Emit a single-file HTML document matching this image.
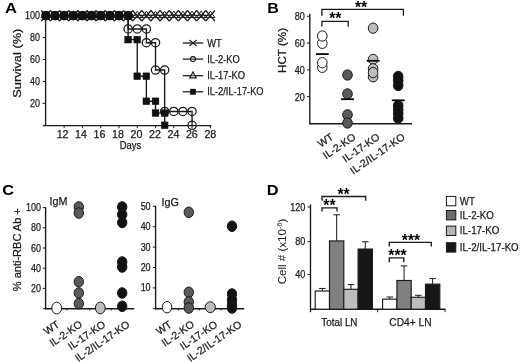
<!DOCTYPE html>
<html><head><meta charset="utf-8"><title>Figure</title>
<style>
html,body{margin:0;padding:0;background:#fff;}
body{width:520px;height:362px;overflow:hidden;}
svg{display:block;font-family:"Liberation Sans",sans-serif;}
</style></head><body>
<svg width="520" height="362" viewBox="0 0 520 362">
<rect x="0" y="0" width="520" height="362" fill="#ffffff"/>
<text transform="translate(5.00,12.80)" x="0.00" y="0" font-size="14" font-weight="bold" fill="#000" textLength="12.00" lengthAdjust="spacingAndGlyphs">A</text>
<line x1="45.60" y1="13.50" x2="45.60" y2="126.10" stroke="#1a1a1a" stroke-width="1.35" stroke-linecap="butt"/>
<line x1="42.80" y1="125.60" x2="211.33" y2="125.60" stroke="#1a1a1a" stroke-width="1.35" stroke-linecap="butt"/>
<line x1="42.60" y1="103.36" x2="45.60" y2="103.36" stroke="#1a1a1a" stroke-width="1.0" stroke-linecap="butt"/>
<text transform="translate(40.00,106.96)" x="-9.97" y="0" font-size="10.8" stroke="#1a1a1a" stroke-width="0.25" fill="#1a1a1a" textLength="9.97" lengthAdjust="spacingAndGlyphs">20</text>
<line x1="42.60" y1="81.42" x2="45.60" y2="81.42" stroke="#1a1a1a" stroke-width="1.0" stroke-linecap="butt"/>
<text transform="translate(40.00,85.02)" x="-9.97" y="0" font-size="10.8" stroke="#1a1a1a" stroke-width="0.25" fill="#1a1a1a" textLength="9.97" lengthAdjust="spacingAndGlyphs">40</text>
<line x1="42.60" y1="59.48" x2="45.60" y2="59.48" stroke="#1a1a1a" stroke-width="1.0" stroke-linecap="butt"/>
<text transform="translate(40.00,63.08)" x="-9.97" y="0" font-size="10.8" stroke="#1a1a1a" stroke-width="0.25" fill="#1a1a1a" textLength="9.97" lengthAdjust="spacingAndGlyphs">60</text>
<line x1="42.60" y1="37.54" x2="45.60" y2="37.54" stroke="#1a1a1a" stroke-width="1.0" stroke-linecap="butt"/>
<text transform="translate(40.00,41.14)" x="-9.97" y="0" font-size="10.8" stroke="#1a1a1a" stroke-width="0.25" fill="#1a1a1a" textLength="9.97" lengthAdjust="spacingAndGlyphs">80</text>
<line x1="42.60" y1="15.60" x2="45.60" y2="15.60" stroke="#1a1a1a" stroke-width="1.0" stroke-linecap="butt"/>
<text transform="translate(40.00,19.20)" x="-14.95" y="0" font-size="10.8" stroke="#1a1a1a" stroke-width="0.25" fill="#1a1a1a" textLength="14.95" lengthAdjust="spacingAndGlyphs">100</text>
<line x1="64.17" y1="125.60" x2="64.17" y2="128.20" stroke="#1a1a1a" stroke-width="1.0" stroke-linecap="butt"/>
<text transform="translate(62.57,138.40)" x="-5.95" y="0" font-size="10.5" stroke="#1a1a1a" stroke-width="0.25" fill="#1a1a1a" textLength="11.90" lengthAdjust="spacingAndGlyphs">12</text>
<line x1="82.44" y1="125.60" x2="82.44" y2="128.20" stroke="#1a1a1a" stroke-width="1.0" stroke-linecap="butt"/>
<text transform="translate(81.04,138.40)" x="-5.95" y="0" font-size="10.5" stroke="#1a1a1a" stroke-width="0.25" fill="#1a1a1a" textLength="11.90" lengthAdjust="spacingAndGlyphs">14</text>
<line x1="100.71" y1="125.60" x2="100.71" y2="128.20" stroke="#1a1a1a" stroke-width="1.0" stroke-linecap="butt"/>
<text transform="translate(99.51,138.40)" x="-5.95" y="0" font-size="10.5" stroke="#1a1a1a" stroke-width="0.25" fill="#1a1a1a" textLength="11.90" lengthAdjust="spacingAndGlyphs">16</text>
<line x1="118.98" y1="125.60" x2="118.98" y2="128.20" stroke="#1a1a1a" stroke-width="1.0" stroke-linecap="butt"/>
<text transform="translate(117.98,138.40)" x="-5.95" y="0" font-size="10.5" stroke="#1a1a1a" stroke-width="0.25" fill="#1a1a1a" textLength="11.90" lengthAdjust="spacingAndGlyphs">18</text>
<line x1="137.25" y1="125.60" x2="137.25" y2="128.20" stroke="#1a1a1a" stroke-width="1.0" stroke-linecap="butt"/>
<text transform="translate(136.45,138.40)" x="-5.95" y="0" font-size="10.5" stroke="#1a1a1a" stroke-width="0.25" fill="#1a1a1a" textLength="11.90" lengthAdjust="spacingAndGlyphs">20</text>
<line x1="155.52" y1="125.60" x2="155.52" y2="128.20" stroke="#1a1a1a" stroke-width="1.0" stroke-linecap="butt"/>
<text transform="translate(154.92,138.40)" x="-5.95" y="0" font-size="10.5" stroke="#1a1a1a" stroke-width="0.25" fill="#1a1a1a" textLength="11.90" lengthAdjust="spacingAndGlyphs">22</text>
<line x1="173.79" y1="125.60" x2="173.79" y2="128.20" stroke="#1a1a1a" stroke-width="1.0" stroke-linecap="butt"/>
<text transform="translate(173.39,138.40)" x="-5.95" y="0" font-size="10.5" stroke="#1a1a1a" stroke-width="0.25" fill="#1a1a1a" textLength="11.90" lengthAdjust="spacingAndGlyphs">24</text>
<line x1="192.06" y1="125.60" x2="192.06" y2="128.20" stroke="#1a1a1a" stroke-width="1.0" stroke-linecap="butt"/>
<text transform="translate(191.86,138.40)" x="-5.95" y="0" font-size="10.5" stroke="#1a1a1a" stroke-width="0.25" fill="#1a1a1a" textLength="11.90" lengthAdjust="spacingAndGlyphs">26</text>
<line x1="210.33" y1="125.60" x2="210.33" y2="128.20" stroke="#1a1a1a" stroke-width="1.0" stroke-linecap="butt"/>
<text transform="translate(210.33,138.40)" x="-5.95" y="0" font-size="10.5" stroke="#1a1a1a" stroke-width="0.25" fill="#1a1a1a" textLength="11.90" lengthAdjust="spacingAndGlyphs">28</text>
<text transform="translate(130.40,149.20)" x="-10.76" y="0" font-size="10.5" stroke="#1a1a1a" stroke-width="0.25" fill="#1a1a1a" textLength="21.53" lengthAdjust="spacingAndGlyphs">Days</text>
<text transform="translate(21.20,63.20) rotate(-90)" x="-34.50" y="0" font-size="11.2" stroke="#1a1a1a" stroke-width="0.25" fill="#1a1a1a" textLength="69.00" lengthAdjust="spacingAndGlyphs">Survival (%)</text>
<line x1="45.90" y1="15.60" x2="210.33" y2="15.60" stroke="#1a1a1a" stroke-width="1.1" stroke-linecap="butt"/>
<path d="M41.30,17.60 L50.50,17.60 L45.90,11.20 Z" stroke="#1a1a1a" stroke-width="1.0" fill="#fff" stroke-linejoin="miter"/>
<path d="M50.43,17.60 L59.63,17.60 L55.03,11.20 Z" stroke="#1a1a1a" stroke-width="1.0" fill="#fff" stroke-linejoin="miter"/>
<path d="M59.57,17.60 L68.77,17.60 L64.17,11.20 Z" stroke="#1a1a1a" stroke-width="1.0" fill="#fff" stroke-linejoin="miter"/>
<path d="M68.71,17.60 L77.91,17.60 L73.31,11.20 Z" stroke="#1a1a1a" stroke-width="1.0" fill="#fff" stroke-linejoin="miter"/>
<path d="M77.84,17.60 L87.04,17.60 L82.44,11.20 Z" stroke="#1a1a1a" stroke-width="1.0" fill="#fff" stroke-linejoin="miter"/>
<path d="M86.97,17.60 L96.17,17.60 L91.57,11.20 Z" stroke="#1a1a1a" stroke-width="1.0" fill="#fff" stroke-linejoin="miter"/>
<path d="M96.11,17.60 L105.31,17.60 L100.71,11.20 Z" stroke="#1a1a1a" stroke-width="1.0" fill="#fff" stroke-linejoin="miter"/>
<path d="M105.25,17.60 L114.44,17.60 L109.84,11.20 Z" stroke="#1a1a1a" stroke-width="1.0" fill="#fff" stroke-linejoin="miter"/>
<path d="M114.38,17.60 L123.58,17.60 L118.98,11.20 Z" stroke="#1a1a1a" stroke-width="1.0" fill="#fff" stroke-linejoin="miter"/>
<path d="M123.52,17.60 L132.72,17.60 L128.12,11.20 Z" stroke="#1a1a1a" stroke-width="1.0" fill="#fff" stroke-linejoin="miter"/>
<path d="M132.65,17.60 L141.85,17.60 L137.25,11.20 Z" stroke="#1a1a1a" stroke-width="1.0" fill="#fff" stroke-linejoin="miter"/>
<path d="M141.78,17.60 L150.98,17.60 L146.38,11.20 Z" stroke="#1a1a1a" stroke-width="1.0" fill="#fff" stroke-linejoin="miter"/>
<path d="M150.92,17.60 L160.12,17.60 L155.52,11.20 Z" stroke="#1a1a1a" stroke-width="1.0" fill="#fff" stroke-linejoin="miter"/>
<path d="M160.06,17.60 L169.25,17.60 L164.66,11.20 Z" stroke="#1a1a1a" stroke-width="1.0" fill="#fff" stroke-linejoin="miter"/>
<path d="M169.19,17.60 L178.39,17.60 L173.79,11.20 Z" stroke="#1a1a1a" stroke-width="1.0" fill="#fff" stroke-linejoin="miter"/>
<path d="M178.33,17.60 L187.53,17.60 L182.93,11.20 Z" stroke="#1a1a1a" stroke-width="1.0" fill="#fff" stroke-linejoin="miter"/>
<path d="M187.46,17.60 L196.66,17.60 L192.06,11.20 Z" stroke="#1a1a1a" stroke-width="1.0" fill="#fff" stroke-linejoin="miter"/>
<path d="M196.59,17.60 L205.79,17.60 L201.19,11.20 Z" stroke="#1a1a1a" stroke-width="1.0" fill="#fff" stroke-linejoin="miter"/>
<path d="M205.73,17.60 L214.93,17.60 L210.33,11.20 Z" stroke="#1a1a1a" stroke-width="1.0" fill="#fff" stroke-linejoin="miter"/>
<path d="M41.30,10.50 L50.50,21.00 M41.30,21.00 L50.50,10.50" stroke="#1a1a1a" stroke-width="1.15" fill="none" stroke-linejoin="miter"/>
<path d="M50.43,10.50 L59.63,21.00 M50.43,21.00 L59.63,10.50" stroke="#1a1a1a" stroke-width="1.15" fill="none" stroke-linejoin="miter"/>
<path d="M59.57,10.50 L68.77,21.00 M59.57,21.00 L68.77,10.50" stroke="#1a1a1a" stroke-width="1.15" fill="none" stroke-linejoin="miter"/>
<path d="M68.71,10.50 L77.91,21.00 M68.71,21.00 L77.91,10.50" stroke="#1a1a1a" stroke-width="1.15" fill="none" stroke-linejoin="miter"/>
<path d="M77.84,10.50 L87.04,21.00 M77.84,21.00 L87.04,10.50" stroke="#1a1a1a" stroke-width="1.15" fill="none" stroke-linejoin="miter"/>
<path d="M86.97,10.50 L96.17,21.00 M86.97,21.00 L96.17,10.50" stroke="#1a1a1a" stroke-width="1.15" fill="none" stroke-linejoin="miter"/>
<path d="M96.11,10.50 L105.31,21.00 M96.11,21.00 L105.31,10.50" stroke="#1a1a1a" stroke-width="1.15" fill="none" stroke-linejoin="miter"/>
<path d="M105.25,10.50 L114.44,21.00 M105.25,21.00 L114.44,10.50" stroke="#1a1a1a" stroke-width="1.15" fill="none" stroke-linejoin="miter"/>
<path d="M114.38,10.50 L123.58,21.00 M114.38,21.00 L123.58,10.50" stroke="#1a1a1a" stroke-width="1.15" fill="none" stroke-linejoin="miter"/>
<path d="M123.52,10.50 L132.72,21.00 M123.52,21.00 L132.72,10.50" stroke="#1a1a1a" stroke-width="1.15" fill="none" stroke-linejoin="miter"/>
<path d="M132.65,10.50 L141.85,21.00 M132.65,21.00 L141.85,10.50" stroke="#1a1a1a" stroke-width="1.15" fill="none" stroke-linejoin="miter"/>
<path d="M141.78,10.50 L150.98,21.00 M141.78,21.00 L150.98,10.50" stroke="#1a1a1a" stroke-width="1.15" fill="none" stroke-linejoin="miter"/>
<path d="M150.92,10.50 L160.12,21.00 M150.92,21.00 L160.12,10.50" stroke="#1a1a1a" stroke-width="1.15" fill="none" stroke-linejoin="miter"/>
<path d="M160.06,10.50 L169.25,21.00 M160.06,21.00 L169.25,10.50" stroke="#1a1a1a" stroke-width="1.15" fill="none" stroke-linejoin="miter"/>
<path d="M169.19,10.50 L178.39,21.00 M169.19,21.00 L178.39,10.50" stroke="#1a1a1a" stroke-width="1.15" fill="none" stroke-linejoin="miter"/>
<path d="M178.33,10.50 L187.53,21.00 M178.33,21.00 L187.53,10.50" stroke="#1a1a1a" stroke-width="1.15" fill="none" stroke-linejoin="miter"/>
<path d="M187.46,10.50 L196.66,21.00 M187.46,21.00 L196.66,10.50" stroke="#1a1a1a" stroke-width="1.15" fill="none" stroke-linejoin="miter"/>
<path d="M196.59,10.50 L205.79,21.00 M196.59,21.00 L205.79,10.50" stroke="#1a1a1a" stroke-width="1.15" fill="none" stroke-linejoin="miter"/>
<path d="M205.73,10.50 L214.93,21.00 M205.73,21.00 L214.93,10.50" stroke="#1a1a1a" stroke-width="1.15" fill="none" stroke-linejoin="miter"/>
<line x1="45.90" y1="15.30" x2="210.33" y2="15.30" stroke="#1a1a1a" stroke-width="1.1" stroke-linecap="butt"/>
<path d="M128.12,15.60 L128.12,28.98 L137.25,28.98 L146.38,28.98 L146.38,42.70 L155.52,42.70 L155.52,70.01 L164.66,70.01 L164.66,111.48 L173.79,111.48 L182.93,111.48 L192.06,111.48 L192.06,125.30" stroke="#1a1a1a" stroke-width="1.35" fill="none" stroke-linejoin="miter"/>
<path d="M45.90,15.60 L128.12,15.60 L128.12,39.62 L137.25,39.62 L137.25,76.26 L146.38,76.26 L146.38,101.28 L155.52,101.28 L155.52,113.12 L164.66,113.12 L164.66,125.30" stroke="#1a1a1a" stroke-width="1.35" fill="none" stroke-linejoin="miter"/>
<circle cx="128.12" cy="28.98" r="4.15" fill="none" stroke="#1a1a1a" stroke-width="1.25"/>
<circle cx="137.25" cy="28.98" r="4.15" fill="none" stroke="#1a1a1a" stroke-width="1.25"/>
<circle cx="146.38" cy="28.98" r="4.15" fill="none" stroke="#1a1a1a" stroke-width="1.25"/>
<circle cx="146.38" cy="42.70" r="4.15" fill="none" stroke="#1a1a1a" stroke-width="1.25"/>
<circle cx="155.52" cy="42.70" r="4.15" fill="none" stroke="#1a1a1a" stroke-width="1.25"/>
<circle cx="155.52" cy="70.01" r="4.15" fill="none" stroke="#1a1a1a" stroke-width="1.25"/>
<circle cx="164.66" cy="70.01" r="4.15" fill="none" stroke="#1a1a1a" stroke-width="1.25"/>
<circle cx="164.66" cy="111.48" r="4.15" fill="none" stroke="#1a1a1a" stroke-width="1.25"/>
<circle cx="173.79" cy="111.48" r="4.15" fill="none" stroke="#1a1a1a" stroke-width="1.25"/>
<circle cx="182.93" cy="111.48" r="4.15" fill="none" stroke="#1a1a1a" stroke-width="1.25"/>
<circle cx="192.06" cy="111.48" r="4.15" fill="none" stroke="#1a1a1a" stroke-width="1.25"/>
<circle cx="192.06" cy="125.30" r="4.15" fill="none" stroke="#1a1a1a" stroke-width="1.25"/>
<circle cx="45.90" cy="15.60" r="4.30" fill="#111" stroke="#1a1a1a" stroke-width="1.0"/>
<rect x="42.10" y="11.80" width="7.60" height="7.60" fill="#111" stroke="#111" stroke-width="0.4"/>
<circle cx="55.03" cy="15.60" r="4.30" fill="#111" stroke="#1a1a1a" stroke-width="1.0"/>
<rect x="51.23" y="11.80" width="7.60" height="7.60" fill="#111" stroke="#111" stroke-width="0.4"/>
<circle cx="64.17" cy="15.60" r="4.30" fill="#111" stroke="#1a1a1a" stroke-width="1.0"/>
<rect x="60.37" y="11.80" width="7.60" height="7.60" fill="#111" stroke="#111" stroke-width="0.4"/>
<circle cx="73.31" cy="15.60" r="4.30" fill="#111" stroke="#1a1a1a" stroke-width="1.0"/>
<rect x="69.51" y="11.80" width="7.60" height="7.60" fill="#111" stroke="#111" stroke-width="0.4"/>
<circle cx="82.44" cy="15.60" r="4.30" fill="#111" stroke="#1a1a1a" stroke-width="1.0"/>
<rect x="78.64" y="11.80" width="7.60" height="7.60" fill="#111" stroke="#111" stroke-width="0.4"/>
<circle cx="91.57" cy="15.60" r="4.30" fill="#111" stroke="#1a1a1a" stroke-width="1.0"/>
<rect x="87.77" y="11.80" width="7.60" height="7.60" fill="#111" stroke="#111" stroke-width="0.4"/>
<circle cx="100.71" cy="15.60" r="4.30" fill="#111" stroke="#1a1a1a" stroke-width="1.0"/>
<rect x="96.91" y="11.80" width="7.60" height="7.60" fill="#111" stroke="#111" stroke-width="0.4"/>
<circle cx="109.84" cy="15.60" r="4.30" fill="#111" stroke="#1a1a1a" stroke-width="1.0"/>
<rect x="106.05" y="11.80" width="7.60" height="7.60" fill="#111" stroke="#111" stroke-width="0.4"/>
<circle cx="118.98" cy="15.60" r="4.30" fill="#111" stroke="#1a1a1a" stroke-width="1.0"/>
<rect x="115.18" y="11.80" width="7.60" height="7.60" fill="#111" stroke="#111" stroke-width="0.4"/>
<circle cx="128.12" cy="15.60" r="4.30" fill="#111" stroke="#1a1a1a" stroke-width="1.0"/>
<rect x="124.32" y="11.80" width="7.60" height="7.60" fill="#111" stroke="#111" stroke-width="0.4"/>
<rect x="124.72" y="36.22" width="6.80" height="6.80" fill="#111" stroke="#111" stroke-width="0.4"/>
<rect x="133.85" y="36.22" width="6.80" height="6.80" fill="#111" stroke="#111" stroke-width="0.4"/>
<rect x="133.85" y="72.86" width="6.80" height="6.80" fill="#111" stroke="#111" stroke-width="0.4"/>
<rect x="142.98" y="72.86" width="6.80" height="6.80" fill="#111" stroke="#111" stroke-width="0.4"/>
<rect x="142.98" y="97.88" width="6.80" height="6.80" fill="#111" stroke="#111" stroke-width="0.4"/>
<rect x="152.12" y="97.88" width="6.80" height="6.80" fill="#111" stroke="#111" stroke-width="0.4"/>
<rect x="152.12" y="109.72" width="6.80" height="6.80" fill="#111" stroke="#111" stroke-width="0.4"/>
<rect x="161.25" y="109.72" width="6.80" height="6.80" fill="#111" stroke="#111" stroke-width="0.4"/>
<rect x="161.25" y="121.90" width="6.80" height="6.80" fill="#111" stroke="#111" stroke-width="0.4"/>
<line x1="182.80" y1="43.00" x2="203.20" y2="43.00" stroke="#1a1a1a" stroke-width="1.25" stroke-linecap="butt"/>
<text transform="translate(207.20,46.60)" x="0.00" y="0" font-size="10.5" stroke="#1a1a1a" stroke-width="0.25" fill="#1a1a1a" textLength="14.48" lengthAdjust="spacingAndGlyphs">WT</text>
<line x1="182.80" y1="59.10" x2="203.20" y2="59.10" stroke="#1a1a1a" stroke-width="1.25" stroke-linecap="butt"/>
<text transform="translate(207.20,62.70)" x="0.00" y="0" font-size="10.5" stroke="#1a1a1a" stroke-width="0.25" fill="#1a1a1a" textLength="32.60" lengthAdjust="spacingAndGlyphs">IL-2-KO</text>
<line x1="182.80" y1="75.70" x2="203.20" y2="75.70" stroke="#1a1a1a" stroke-width="1.25" stroke-linecap="butt"/>
<text transform="translate(207.20,79.30)" x="0.00" y="0" font-size="10.5" stroke="#1a1a1a" stroke-width="0.25" fill="#1a1a1a" textLength="37.78" lengthAdjust="spacingAndGlyphs">IL-17-KO</text>
<line x1="182.80" y1="91.80" x2="203.20" y2="91.80" stroke="#1a1a1a" stroke-width="1.25" stroke-linecap="butt"/>
<text transform="translate(207.20,95.40)" x="0.00" y="0" font-size="10.5" stroke="#1a1a1a" stroke-width="0.25" fill="#1a1a1a" textLength="56.42" lengthAdjust="spacingAndGlyphs">IL-2/IL-17-KO</text>
<path d="M189.40,40.00 L196.60,46.00 M189.40,46.00 L196.60,40.00" stroke="#1a1a1a" stroke-width="1.1" fill="none" stroke-linejoin="miter"/>
<circle cx="193.00" cy="59.10" r="2.50" fill="#fff" stroke="#1a1a1a" stroke-width="1.1"/>
<line x1="190.50" y1="59.10" x2="195.50" y2="59.10" stroke="#1a1a1a" stroke-width="1.1" stroke-linecap="butt"/>
<path d="M189.80,77.90 L196.20,77.90 L193.00,71.90 Z" stroke="#1a1a1a" stroke-width="1.1" fill="#fff" stroke-linejoin="miter"/>
<line x1="191.50" y1="75.70" x2="194.50" y2="75.70" stroke="#1a1a1a" stroke-width="0.9" stroke-linecap="butt"/>
<rect x="190.20" y="89.00" width="5.60" height="5.60" fill="#111" stroke="#111" stroke-width="0.3"/>
<text transform="translate(267.30,12.80)" x="0.00" y="0" font-size="14" font-weight="bold" fill="#000" textLength="11.60" lengthAdjust="spacingAndGlyphs">B</text>
<line x1="309.80" y1="13.80" x2="309.80" y2="124.20" stroke="#1a1a1a" stroke-width="1.35" stroke-linecap="butt"/>
<line x1="309.30" y1="123.70" x2="412.00" y2="123.70" stroke="#1a1a1a" stroke-width="1.35" stroke-linecap="butt"/>
<line x1="307.00" y1="96.62" x2="309.80" y2="96.62" stroke="#1a1a1a" stroke-width="1.0" stroke-linecap="butt"/>
<text transform="translate(304.80,100.52)" x="-10.09" y="0" font-size="10.8" stroke="#1a1a1a" stroke-width="0.25" fill="#1a1a1a" textLength="10.09" lengthAdjust="spacingAndGlyphs">20</text>
<line x1="307.00" y1="69.84" x2="309.80" y2="69.84" stroke="#1a1a1a" stroke-width="1.0" stroke-linecap="butt"/>
<text transform="translate(304.80,73.74)" x="-10.09" y="0" font-size="10.8" stroke="#1a1a1a" stroke-width="0.25" fill="#1a1a1a" textLength="10.09" lengthAdjust="spacingAndGlyphs">40</text>
<line x1="307.00" y1="43.06" x2="309.80" y2="43.06" stroke="#1a1a1a" stroke-width="1.0" stroke-linecap="butt"/>
<text transform="translate(304.80,46.96)" x="-10.09" y="0" font-size="10.8" stroke="#1a1a1a" stroke-width="0.25" fill="#1a1a1a" textLength="10.09" lengthAdjust="spacingAndGlyphs">60</text>
<line x1="307.00" y1="16.28" x2="309.80" y2="16.28" stroke="#1a1a1a" stroke-width="1.0" stroke-linecap="butt"/>
<text transform="translate(304.80,20.18)" x="-10.09" y="0" font-size="10.8" stroke="#1a1a1a" stroke-width="0.25" fill="#1a1a1a" textLength="10.09" lengthAdjust="spacingAndGlyphs">80</text>
<text transform="translate(285.60,50.50) rotate(-90)" x="-22.50" y="0" font-size="11.2" stroke="#1a1a1a" stroke-width="0.25" fill="#1a1a1a" textLength="45.00" lengthAdjust="spacingAndGlyphs">HCT (%)</text>
<ellipse cx="322.30" cy="43.30" rx="4.80" ry="5.15" fill="#fff" stroke="#1a1a1a" stroke-width="1.0"/>
<ellipse cx="322.30" cy="36.00" rx="4.80" ry="5.15" fill="#fff" stroke="#1a1a1a" stroke-width="1.0"/>
<ellipse cx="322.30" cy="67.30" rx="4.80" ry="5.15" fill="#fff" stroke="#1a1a1a" stroke-width="1.0"/>
<ellipse cx="322.30" cy="62.70" rx="4.80" ry="5.15" fill="#fff" stroke="#1a1a1a" stroke-width="1.0"/>
<ellipse cx="347.50" cy="75.00" rx="4.80" ry="5.15" fill="#5a5a5a" stroke="#1a1a1a" stroke-width="1.0"/>
<ellipse cx="347.50" cy="93.90" rx="4.80" ry="5.15" fill="#5a5a5a" stroke="#1a1a1a" stroke-width="1.0"/>
<ellipse cx="347.50" cy="114.80" rx="4.80" ry="5.15" fill="#5a5a5a" stroke="#1a1a1a" stroke-width="1.0"/>
<ellipse cx="347.50" cy="123.00" rx="4.80" ry="5.15" fill="#5a5a5a" stroke="#1a1a1a" stroke-width="1.0"/>
<ellipse cx="373.10" cy="28.20" rx="4.80" ry="5.15" fill="#bdbdbd" stroke="#1a1a1a" stroke-width="1.0"/>
<ellipse cx="373.10" cy="59.40" rx="4.80" ry="5.15" fill="#bdbdbd" stroke="#1a1a1a" stroke-width="1.0"/>
<ellipse cx="373.10" cy="76.80" rx="4.80" ry="5.15" fill="#bdbdbd" stroke="#1a1a1a" stroke-width="1.0"/>
<ellipse cx="373.10" cy="68.80" rx="4.80" ry="5.15" fill="#bdbdbd" stroke="#1a1a1a" stroke-width="1.0"/>
<ellipse cx="373.10" cy="72.60" rx="4.80" ry="5.15" fill="#bdbdbd" stroke="#1a1a1a" stroke-width="1.0"/>
<ellipse cx="398.20" cy="76.40" rx="4.80" ry="5.15" fill="#111" stroke="#1a1a1a" stroke-width="1.0"/>
<ellipse cx="398.20" cy="80.50" rx="4.80" ry="5.15" fill="#111" stroke="#1a1a1a" stroke-width="1.0"/>
<ellipse cx="398.20" cy="85.50" rx="4.80" ry="5.15" fill="#111" stroke="#1a1a1a" stroke-width="1.0"/>
<ellipse cx="398.20" cy="105.50" rx="4.80" ry="5.15" fill="#111" stroke="#1a1a1a" stroke-width="1.0"/>
<ellipse cx="398.20" cy="109.50" rx="4.80" ry="5.15" fill="#111" stroke="#1a1a1a" stroke-width="1.0"/>
<ellipse cx="398.20" cy="113.50" rx="4.80" ry="5.15" fill="#111" stroke="#1a1a1a" stroke-width="1.0"/>
<ellipse cx="398.20" cy="118.20" rx="4.80" ry="5.15" fill="#111" stroke="#1a1a1a" stroke-width="1.0"/>
<line x1="315.90" y1="54.10" x2="328.70" y2="54.10" stroke="#000" stroke-width="1.8" stroke-linecap="butt"/>
<line x1="341.10" y1="99.20" x2="353.90" y2="99.20" stroke="#000" stroke-width="1.8" stroke-linecap="butt"/>
<line x1="366.70" y1="60.80" x2="379.50" y2="60.80" stroke="#000" stroke-width="1.8" stroke-linecap="butt"/>
<line x1="391.80" y1="100.30" x2="404.60" y2="100.30" stroke="#000" stroke-width="1.8" stroke-linecap="butt"/>
<path d="M321.9,15.8 L321.9,9.4 L403.4,9.4 L403.4,15.8" stroke="#1a1a1a" stroke-width="1.3" fill="none" stroke-linejoin="miter"/>
<path d="M321.9,26.4 L321.9,21.3 L348.2,21.3 L348.2,26.4" stroke="#1a1a1a" stroke-width="1.3" fill="none" stroke-linejoin="miter"/>
<text transform="translate(361.00,12.87)" x="-6.10" y="0" font-size="17.0" font-weight="bold" fill="#000" textLength="12.20" lengthAdjust="spacingAndGlyphs">**</text>
<text transform="translate(335.30,24.37)" x="-6.10" y="0" font-size="17.0" font-weight="bold" fill="#000" textLength="12.20" lengthAdjust="spacingAndGlyphs">**</text>
<text transform="translate(334.20,138.60) rotate(-34.5)" x="-16.32" y="0" font-size="10.5" stroke="#1a1a1a" stroke-width="0.25" fill="#1a1a1a" textLength="16.32" lengthAdjust="spacingAndGlyphs">WT</text>
<text transform="translate(356.40,138.60) rotate(-34.5)" x="-36.76" y="0" font-size="10.5" stroke="#1a1a1a" stroke-width="0.25" fill="#1a1a1a" textLength="36.76" lengthAdjust="spacingAndGlyphs">IL-2-KO</text>
<text transform="translate(380.60,138.60) rotate(-34.5)" x="-42.60" y="0" font-size="10.5" stroke="#1a1a1a" stroke-width="0.25" fill="#1a1a1a" textLength="42.60" lengthAdjust="spacingAndGlyphs">IL-17-KO</text>
<text transform="translate(405.70,138.60) rotate(-34.5)" x="-63.61" y="0" font-size="10.5" stroke="#1a1a1a" stroke-width="0.25" fill="#1a1a1a" textLength="63.61" lengthAdjust="spacingAndGlyphs">IL-2/IL-17-KO</text>
<text transform="translate(2.20,195.00)" x="0.00" y="0" font-size="14" font-weight="bold" fill="#000" textLength="11.80" lengthAdjust="spacingAndGlyphs">C</text>
<line x1="45.60" y1="207.10" x2="45.60" y2="309.30" stroke="#1a1a1a" stroke-width="1.4" stroke-linecap="butt"/>
<line x1="45.10" y1="308.70" x2="134.20" y2="308.70" stroke="#1a1a1a" stroke-width="1.4" stroke-linecap="butt"/>
<line x1="42.80" y1="288.40" x2="45.60" y2="288.40" stroke="#1a1a1a" stroke-width="1.0" stroke-linecap="butt"/>
<text transform="translate(40.90,291.90)" x="-9.97" y="0" font-size="10.8" stroke="#1a1a1a" stroke-width="0.25" fill="#1a1a1a" textLength="9.97" lengthAdjust="spacingAndGlyphs">20</text>
<line x1="42.80" y1="268.20" x2="45.60" y2="268.20" stroke="#1a1a1a" stroke-width="1.0" stroke-linecap="butt"/>
<text transform="translate(40.90,271.70)" x="-9.97" y="0" font-size="10.8" stroke="#1a1a1a" stroke-width="0.25" fill="#1a1a1a" textLength="9.97" lengthAdjust="spacingAndGlyphs">40</text>
<line x1="42.80" y1="248.00" x2="45.60" y2="248.00" stroke="#1a1a1a" stroke-width="1.0" stroke-linecap="butt"/>
<text transform="translate(40.90,251.50)" x="-9.97" y="0" font-size="10.8" stroke="#1a1a1a" stroke-width="0.25" fill="#1a1a1a" textLength="9.97" lengthAdjust="spacingAndGlyphs">60</text>
<line x1="42.80" y1="227.80" x2="45.60" y2="227.80" stroke="#1a1a1a" stroke-width="1.0" stroke-linecap="butt"/>
<text transform="translate(40.90,231.30)" x="-9.97" y="0" font-size="10.8" stroke="#1a1a1a" stroke-width="0.25" fill="#1a1a1a" textLength="9.97" lengthAdjust="spacingAndGlyphs">80</text>
<line x1="42.80" y1="207.60" x2="45.60" y2="207.60" stroke="#1a1a1a" stroke-width="1.0" stroke-linecap="butt"/>
<text transform="translate(40.90,211.10)" x="-14.95" y="0" font-size="10.8" stroke="#1a1a1a" stroke-width="0.25" fill="#1a1a1a" textLength="14.95" lengthAdjust="spacingAndGlyphs">100</text>
<line x1="42.80" y1="308.70" x2="45.60" y2="308.70" stroke="#1a1a1a" stroke-width="1.0" stroke-linecap="butt"/>
<line x1="67.00" y1="308.70" x2="67.00" y2="310.50" stroke="#1a1a1a" stroke-width="0.9" stroke-linecap="butt"/>
<line x1="89.70" y1="308.70" x2="89.70" y2="310.50" stroke="#1a1a1a" stroke-width="0.9" stroke-linecap="butt"/>
<line x1="111.30" y1="308.70" x2="111.30" y2="310.50" stroke="#1a1a1a" stroke-width="0.9" stroke-linecap="butt"/>
<text transform="translate(21.00,249.70) rotate(-90)" x="-41.50" y="0" font-size="10.8" stroke="#1a1a1a" stroke-width="0.25" fill="#1a1a1a" textLength="83.00" lengthAdjust="spacingAndGlyphs">% anti-RBC Ab +</text>
<text transform="translate(49.60,205.20)" x="0.00" y="0" font-size="11.3" stroke="#1a1a1a" stroke-width="0.25" fill="#1a1a1a" textLength="18.00" lengthAdjust="spacingAndGlyphs">IgM</text>
<ellipse cx="78.80" cy="207.00" rx="4.70" ry="5.30" fill="#5a5a5a" stroke="#1a1a1a" stroke-width="1.0"/>
<ellipse cx="78.80" cy="213.00" rx="4.70" ry="5.30" fill="#5a5a5a" stroke="#1a1a1a" stroke-width="1.0"/>
<ellipse cx="78.80" cy="281.70" rx="4.70" ry="5.30" fill="#5a5a5a" stroke="#1a1a1a" stroke-width="1.0"/>
<ellipse cx="78.80" cy="293.00" rx="4.70" ry="5.30" fill="#5a5a5a" stroke="#1a1a1a" stroke-width="1.0"/>
<ellipse cx="78.80" cy="303.60" rx="4.70" ry="5.30" fill="#5a5a5a" stroke="#1a1a1a" stroke-width="1.0"/>
<ellipse cx="122.20" cy="207.00" rx="4.70" ry="5.30" fill="#111" stroke="#1a1a1a" stroke-width="1.0"/>
<ellipse cx="122.20" cy="214.50" rx="4.70" ry="5.30" fill="#111" stroke="#1a1a1a" stroke-width="1.0"/>
<ellipse cx="122.20" cy="222.50" rx="4.70" ry="5.30" fill="#111" stroke="#1a1a1a" stroke-width="1.0"/>
<ellipse cx="122.20" cy="262.00" rx="4.70" ry="5.30" fill="#111" stroke="#1a1a1a" stroke-width="1.0"/>
<ellipse cx="122.20" cy="267.00" rx="4.70" ry="5.30" fill="#111" stroke="#1a1a1a" stroke-width="1.0"/>
<ellipse cx="122.20" cy="293.00" rx="4.70" ry="5.30" fill="#111" stroke="#1a1a1a" stroke-width="1.0"/>
<ellipse cx="122.20" cy="306.30" rx="4.70" ry="5.30" fill="#111" stroke="#1a1a1a" stroke-width="1.0"/>
<ellipse cx="56.70" cy="308.10" rx="4.90" ry="5.90" fill="#fff" stroke="#1a1a1a" stroke-width="1.0"/>
<ellipse cx="100.30" cy="308.00" rx="4.90" ry="5.90" fill="#bdbdbd" stroke="#1a1a1a" stroke-width="1.0"/>
<text transform="translate(60.20,326.00) rotate(-34.5)" x="-16.32" y="0" font-size="10.5" stroke="#1a1a1a" stroke-width="0.25" fill="#1a1a1a" textLength="16.32" lengthAdjust="spacingAndGlyphs">WT</text>
<text transform="translate(83.00,326.00) rotate(-34.5)" x="-36.76" y="0" font-size="10.5" stroke="#1a1a1a" stroke-width="0.25" fill="#1a1a1a" textLength="36.76" lengthAdjust="spacingAndGlyphs">IL-2-KO</text>
<text transform="translate(106.20,326.00) rotate(-34.5)" x="-42.60" y="0" font-size="10.5" stroke="#1a1a1a" stroke-width="0.25" fill="#1a1a1a" textLength="42.60" lengthAdjust="spacingAndGlyphs">IL-17-KO</text>
<text transform="translate(130.60,326.00) rotate(-34.5)" x="-63.61" y="0" font-size="10.5" stroke="#1a1a1a" stroke-width="0.25" fill="#1a1a1a" textLength="63.61" lengthAdjust="spacingAndGlyphs">IL-2/IL-17-KO</text>
<line x1="155.60" y1="205.80" x2="155.60" y2="309.30" stroke="#1a1a1a" stroke-width="1.4" stroke-linecap="butt"/>
<line x1="155.10" y1="308.70" x2="244.20" y2="308.70" stroke="#1a1a1a" stroke-width="1.4" stroke-linecap="butt"/>
<line x1="152.80" y1="287.90" x2="155.60" y2="287.90" stroke="#1a1a1a" stroke-width="1.0" stroke-linecap="butt"/>
<text transform="translate(150.60,291.40)" x="-9.97" y="0" font-size="10.8" stroke="#1a1a1a" stroke-width="0.25" fill="#1a1a1a" textLength="9.97" lengthAdjust="spacingAndGlyphs">10</text>
<line x1="152.80" y1="267.50" x2="155.60" y2="267.50" stroke="#1a1a1a" stroke-width="1.0" stroke-linecap="butt"/>
<text transform="translate(150.60,271.00)" x="-9.97" y="0" font-size="10.8" stroke="#1a1a1a" stroke-width="0.25" fill="#1a1a1a" textLength="9.97" lengthAdjust="spacingAndGlyphs">20</text>
<line x1="152.80" y1="247.10" x2="155.60" y2="247.10" stroke="#1a1a1a" stroke-width="1.0" stroke-linecap="butt"/>
<text transform="translate(150.60,250.60)" x="-9.97" y="0" font-size="10.8" stroke="#1a1a1a" stroke-width="0.25" fill="#1a1a1a" textLength="9.97" lengthAdjust="spacingAndGlyphs">30</text>
<line x1="152.80" y1="226.70" x2="155.60" y2="226.70" stroke="#1a1a1a" stroke-width="1.0" stroke-linecap="butt"/>
<text transform="translate(150.60,230.20)" x="-9.97" y="0" font-size="10.8" stroke="#1a1a1a" stroke-width="0.25" fill="#1a1a1a" textLength="9.97" lengthAdjust="spacingAndGlyphs">40</text>
<line x1="152.80" y1="206.30" x2="155.60" y2="206.30" stroke="#1a1a1a" stroke-width="1.0" stroke-linecap="butt"/>
<text transform="translate(150.60,209.80)" x="-9.97" y="0" font-size="10.8" stroke="#1a1a1a" stroke-width="0.25" fill="#1a1a1a" textLength="9.97" lengthAdjust="spacingAndGlyphs">50</text>
<line x1="152.80" y1="308.70" x2="155.60" y2="308.70" stroke="#1a1a1a" stroke-width="1.0" stroke-linecap="butt"/>
<line x1="178.50" y1="308.70" x2="178.50" y2="310.50" stroke="#1a1a1a" stroke-width="0.9" stroke-linecap="butt"/>
<line x1="199.30" y1="308.70" x2="199.30" y2="310.50" stroke="#1a1a1a" stroke-width="0.9" stroke-linecap="butt"/>
<line x1="221.00" y1="308.70" x2="221.00" y2="310.50" stroke="#1a1a1a" stroke-width="0.9" stroke-linecap="butt"/>
<text transform="translate(161.40,205.70)" x="0.00" y="0" font-size="11.3" stroke="#1a1a1a" stroke-width="0.25" fill="#1a1a1a" textLength="17.40" lengthAdjust="spacingAndGlyphs">IgG</text>
<ellipse cx="188.80" cy="212.30" rx="4.70" ry="5.30" fill="#5a5a5a" stroke="#1a1a1a" stroke-width="1.0"/>
<ellipse cx="188.80" cy="292.30" rx="4.70" ry="5.30" fill="#5a5a5a" stroke="#1a1a1a" stroke-width="1.0"/>
<ellipse cx="188.80" cy="302.00" rx="4.70" ry="5.30" fill="#5a5a5a" stroke="#1a1a1a" stroke-width="1.0"/>
<ellipse cx="188.80" cy="308.00" rx="4.70" ry="5.30" fill="#5a5a5a" stroke="#1a1a1a" stroke-width="1.0"/>
<ellipse cx="232.00" cy="226.20" rx="4.70" ry="5.30" fill="#111" stroke="#1a1a1a" stroke-width="1.0"/>
<ellipse cx="232.00" cy="294.00" rx="4.70" ry="5.30" fill="#111" stroke="#1a1a1a" stroke-width="1.0"/>
<ellipse cx="232.00" cy="300.00" rx="4.70" ry="5.30" fill="#111" stroke="#1a1a1a" stroke-width="1.0"/>
<ellipse cx="232.00" cy="305.00" rx="4.70" ry="5.30" fill="#111" stroke="#1a1a1a" stroke-width="1.0"/>
<ellipse cx="232.00" cy="308.00" rx="4.70" ry="5.30" fill="#111" stroke="#1a1a1a" stroke-width="1.0"/>
<ellipse cx="167.00" cy="307.20" rx="4.80" ry="5.70" fill="#fff" stroke="#1a1a1a" stroke-width="1.0"/>
<ellipse cx="210.30" cy="307.20" rx="5.10" ry="5.40" fill="#bdbdbd" stroke="#1a1a1a" stroke-width="1.0"/>
<text transform="translate(172.60,326.00) rotate(-34.5)" x="-16.32" y="0" font-size="10.5" stroke="#1a1a1a" stroke-width="0.25" fill="#1a1a1a" textLength="16.32" lengthAdjust="spacingAndGlyphs">WT</text>
<text transform="translate(195.00,326.00) rotate(-34.5)" x="-36.76" y="0" font-size="10.5" stroke="#1a1a1a" stroke-width="0.25" fill="#1a1a1a" textLength="36.76" lengthAdjust="spacingAndGlyphs">IL-2-KO</text>
<text transform="translate(218.20,326.00) rotate(-34.5)" x="-42.60" y="0" font-size="10.5" stroke="#1a1a1a" stroke-width="0.25" fill="#1a1a1a" textLength="42.60" lengthAdjust="spacingAndGlyphs">IL-17-KO</text>
<text transform="translate(242.60,326.00) rotate(-34.5)" x="-63.61" y="0" font-size="10.5" stroke="#1a1a1a" stroke-width="0.25" fill="#1a1a1a" textLength="63.61" lengthAdjust="spacingAndGlyphs">IL-2/IL-17-KO</text>
<text transform="translate(266.80,194.90)" x="0.00" y="0" font-size="14.2" font-weight="bold" fill="#000" textLength="11.80" lengthAdjust="spacingAndGlyphs">D</text>
<line x1="310.50" y1="204.50" x2="310.50" y2="312.20" stroke="#1a1a1a" stroke-width="1.35" stroke-linecap="butt"/>
<line x1="310.00" y1="309.20" x2="445.50" y2="309.20" stroke="#1a1a1a" stroke-width="1.35" stroke-linecap="butt"/>
<line x1="377.60" y1="309.20" x2="377.60" y2="312.20" stroke="#1a1a1a" stroke-width="1.0" stroke-linecap="butt"/>
<line x1="445.00" y1="309.20" x2="445.00" y2="312.20" stroke="#1a1a1a" stroke-width="1.0" stroke-linecap="butt"/>
<line x1="307.60" y1="274.60" x2="310.50" y2="274.60" stroke="#1a1a1a" stroke-width="1.0" stroke-linecap="butt"/>
<text transform="translate(305.30,278.40)" x="-10.09" y="0" font-size="10.8" stroke="#1a1a1a" stroke-width="0.25" fill="#1a1a1a" textLength="10.09" lengthAdjust="spacingAndGlyphs">40</text>
<line x1="307.60" y1="241.60" x2="310.50" y2="241.60" stroke="#1a1a1a" stroke-width="1.0" stroke-linecap="butt"/>
<text transform="translate(305.30,245.40)" x="-10.09" y="0" font-size="10.8" stroke="#1a1a1a" stroke-width="0.25" fill="#1a1a1a" textLength="10.09" lengthAdjust="spacingAndGlyphs">80</text>
<line x1="307.60" y1="207.00" x2="310.50" y2="207.00" stroke="#1a1a1a" stroke-width="1.0" stroke-linecap="butt"/>
<text transform="translate(305.30,210.80)" x="-15.13" y="0" font-size="10.8" stroke="#1a1a1a" stroke-width="0.25" fill="#1a1a1a" textLength="15.13" lengthAdjust="spacingAndGlyphs">120</text>
<text transform="translate(285.6,251.5) rotate(-90)" x="-32.8" y="0" font-size="11.2" fill="#1a1a1a" textLength="65.6" lengthAdjust="spacingAndGlyphs">Cell # (x10<tspan font-size="7" dy="-4">-6</tspan><tspan dy="4">)</tspan></text>
<line x1="322.35" y1="291.02" x2="322.35" y2="288.45" stroke="#1a1a1a" stroke-width="1.0" stroke-linecap="butt"/>
<line x1="319.05" y1="288.45" x2="325.65" y2="288.45" stroke="#1a1a1a" stroke-width="1.0" stroke-linecap="butt"/>
<rect x="315.20" y="291.02" width="14.30" height="18.18" fill="#fff" stroke="#1a1a1a" stroke-width="1.15"/>
<line x1="336.65" y1="240.92" x2="336.65" y2="214.81" stroke="#1a1a1a" stroke-width="1.0" stroke-linecap="butt"/>
<line x1="333.35" y1="214.81" x2="339.95" y2="214.81" stroke="#1a1a1a" stroke-width="1.0" stroke-linecap="butt"/>
<rect x="329.50" y="240.92" width="14.30" height="68.28" fill="#808080" stroke="#1a1a1a" stroke-width="1.15"/>
<line x1="350.95" y1="289.31" x2="350.95" y2="284.60" stroke="#1a1a1a" stroke-width="1.0" stroke-linecap="butt"/>
<line x1="347.65" y1="284.60" x2="354.25" y2="284.60" stroke="#1a1a1a" stroke-width="1.0" stroke-linecap="butt"/>
<rect x="343.80" y="289.31" width="14.30" height="19.89" fill="#bdbdbd" stroke="#1a1a1a" stroke-width="1.15"/>
<line x1="365.25" y1="249.06" x2="365.25" y2="241.78" stroke="#1a1a1a" stroke-width="1.0" stroke-linecap="butt"/>
<line x1="361.95" y1="241.78" x2="368.55" y2="241.78" stroke="#1a1a1a" stroke-width="1.0" stroke-linecap="butt"/>
<rect x="358.10" y="249.06" width="14.30" height="60.14" fill="#161616" stroke="#1a1a1a" stroke-width="1.15"/>
<line x1="389.75" y1="299.15" x2="389.75" y2="297.01" stroke="#1a1a1a" stroke-width="1.0" stroke-linecap="butt"/>
<line x1="386.45" y1="297.01" x2="393.05" y2="297.01" stroke="#1a1a1a" stroke-width="1.0" stroke-linecap="butt"/>
<rect x="382.60" y="299.15" width="14.30" height="10.05" fill="#fff" stroke="#1a1a1a" stroke-width="1.15"/>
<line x1="404.05" y1="280.49" x2="404.05" y2="265.93" stroke="#1a1a1a" stroke-width="1.0" stroke-linecap="butt"/>
<line x1="400.75" y1="265.93" x2="407.35" y2="265.93" stroke="#1a1a1a" stroke-width="1.0" stroke-linecap="butt"/>
<rect x="396.90" y="280.49" width="14.30" height="28.71" fill="#808080" stroke="#1a1a1a" stroke-width="1.15"/>
<line x1="418.35" y1="297.27" x2="418.35" y2="295.30" stroke="#1a1a1a" stroke-width="1.0" stroke-linecap="butt"/>
<line x1="415.05" y1="295.30" x2="421.65" y2="295.30" stroke="#1a1a1a" stroke-width="1.0" stroke-linecap="butt"/>
<rect x="411.20" y="297.27" width="14.30" height="11.93" fill="#bdbdbd" stroke="#1a1a1a" stroke-width="1.15"/>
<line x1="432.65" y1="284.17" x2="432.65" y2="278.60" stroke="#1a1a1a" stroke-width="1.0" stroke-linecap="butt"/>
<line x1="429.35" y1="278.60" x2="435.95" y2="278.60" stroke="#1a1a1a" stroke-width="1.0" stroke-linecap="butt"/>
<rect x="425.50" y="284.17" width="14.30" height="25.03" fill="#161616" stroke="#1a1a1a" stroke-width="1.15"/>
<text transform="translate(339.40,325.60)" x="-18.10" y="0" font-size="11.2" stroke="#1a1a1a" stroke-width="0.25" fill="#1a1a1a" textLength="36.20" lengthAdjust="spacingAndGlyphs">Total LN</text>
<text transform="translate(410.40,325.60)" x="-21.15" y="0" font-size="11.2" stroke="#1a1a1a" stroke-width="0.25" fill="#1a1a1a" textLength="42.30" lengthAdjust="spacingAndGlyphs">CD4+ LN</text>
<path d="M322,200.7 L322,196.5 L365.7,196.5 L365.7,200.7" stroke="#1a1a1a" stroke-width="1.35" fill="none" stroke-linejoin="miter"/>
<path d="M322,211.4 L322,207.9 L337.0,207.9 L337.0,211.4" stroke="#1a1a1a" stroke-width="1.35" fill="none" stroke-linejoin="miter"/>
<text transform="translate(343.50,200.27)" x="-6.10" y="0" font-size="17.0" font-weight="bold" fill="#000" textLength="12.20" lengthAdjust="spacingAndGlyphs">**</text>
<text transform="translate(329.40,211.47)" x="-6.10" y="0" font-size="17.0" font-weight="bold" fill="#000" textLength="12.20" lengthAdjust="spacingAndGlyphs">**</text>
<path d="M389.3,246.6 L389.3,242.3 L431.3,242.3 L431.3,246.6" stroke="#1a1a1a" stroke-width="1.35" fill="none" stroke-linejoin="miter"/>
<path d="M389.3,262.3 L389.3,257.8 L403.8,257.8 L403.8,262.3" stroke="#1a1a1a" stroke-width="1.35" fill="none" stroke-linejoin="miter"/>
<text transform="translate(411.00,245.97)" x="-9.15" y="0" font-size="17.0" font-weight="bold" fill="#000" textLength="18.30" lengthAdjust="spacingAndGlyphs">***</text>
<text transform="translate(397.50,261.47)" x="-9.15" y="0" font-size="17.0" font-weight="bold" fill="#000" textLength="18.30" lengthAdjust="spacingAndGlyphs">***</text>
<rect x="446.40" y="196.40" width="9.40" height="9.40" fill="#fff" stroke="#1a1a1a" stroke-width="1.0"/>
<text transform="translate(459.80,204.60)" x="0.00" y="0" font-size="10.8" stroke="#1a1a1a" stroke-width="0.25" fill="#1a1a1a" textLength="15.11" lengthAdjust="spacingAndGlyphs">WT</text>
<rect x="446.40" y="210.50" width="9.40" height="9.40" fill="#6c6c6c" stroke="#1a1a1a" stroke-width="1.0"/>
<text transform="translate(459.80,218.70)" x="0.00" y="0" font-size="10.8" stroke="#1a1a1a" stroke-width="0.25" fill="#1a1a1a" textLength="34.03" lengthAdjust="spacingAndGlyphs">IL-2-KO</text>
<rect x="446.40" y="226.10" width="9.40" height="9.40" fill="#b4b4b4" stroke="#1a1a1a" stroke-width="1.0"/>
<text transform="translate(459.80,234.30)" x="0.00" y="0" font-size="10.8" stroke="#1a1a1a" stroke-width="0.25" fill="#1a1a1a" textLength="39.43" lengthAdjust="spacingAndGlyphs">IL-17-KO</text>
<rect x="446.40" y="242.70" width="9.40" height="9.40" fill="#161616" stroke="#1a1a1a" stroke-width="1.0"/>
<text transform="translate(459.80,250.90)" x="0.00" y="0" font-size="10.8" stroke="#1a1a1a" stroke-width="0.25" fill="#1a1a1a" textLength="58.88" lengthAdjust="spacingAndGlyphs">IL-2/IL-17-KO</text>
</svg>
</body></html>
